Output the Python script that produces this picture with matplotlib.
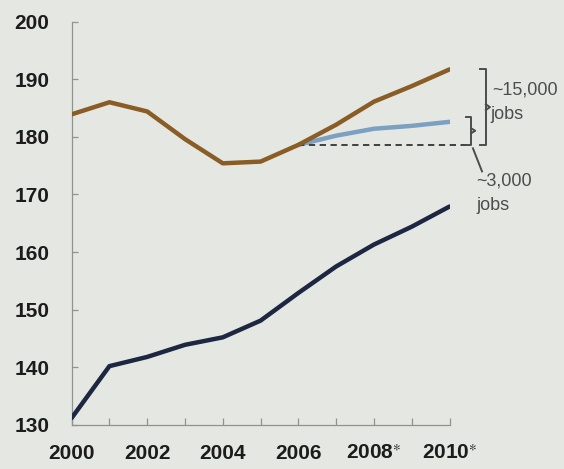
import matplotlib.pyplot as plt

years = list(range(2000, 2011))
brown_vals = [183.9, 186.0, 184.4, 179.6, 175.4, 175.7, 178.6, 182.1, 186.1, 188.8, 191.7]
blue_years = [2006, 2007, 2008, 2009, 2010]
blue_vals = [178.6, 180.2, 181.4, 181.9, 182.6]
navy_vals = [131.2, 140.2, 141.8, 143.9, 145.2, 148.1, 152.9, 157.5, 161.3, 164.4, 167.9]
xtick_labels = ['2000', '2002', '2004', '2006', '2008$^{\u2217}$', '2010$^{\u2217}$']
ytick_vals = [130, 140, 150, 160, 170, 180, 190, 200]

bg = '#e5e8e2'
brown = '#8a5d27'
blue = '#7ba0c2'
navy = '#1d2741'
gray = '#8f948f'
note = '#4a4d4c'

plt.rcParams['font.family'] = ['Liberation Sans', 'DejaVu Sans']
plt.rcParams['mathtext.fontset'] = 'custom'
plt.rcParams['mathtext.rm'] = 'Liberation Sans:bold'
plt.rcParams['mathtext.default'] = 'rm'

fig = plt.figure(figsize=(5.64, 4.69), dpi=100, facecolor=bg)
ax = fig.add_axes([0.127, 0.094, 0.670, 0.860])
ax.set_facecolor(bg)

ax.plot(years, navy_vals, color=navy, lw=3.2, solid_capstyle='round', solid_joinstyle='round', zorder=3)
ax.plot(years, brown_vals, color=brown, lw=3.2, solid_capstyle='round', solid_joinstyle='round', zorder=3)
ax.plot(blue_years, blue_vals, color=blue, lw=3.2, solid_capstyle='round', solid_joinstyle='round', zorder=2)

# dashed baseline from 2006 level
base = blue_vals[0]
ax.plot([2006, 2010.55], [base, base], color='#333333', lw=1.3, ls=(0, (3.5, 2.5)), clip_on=False, zorder=2)

# big bracket (~15,000 jobs)
top = brown_vals[-1]
bx = 2010.96
ax.plot([2010.80, bx, bx, 2010.80], [top, top, base, base], color=note, lw=1.4, clip_on=False)
mid = (top + base) / 2
ax.plot([bx, 2011.07, bx], [mid + 0.5, mid, mid - 0.5], color=note, lw=1.4, clip_on=False)
ax.text(2011.13, mid + 3.0, '~15,000', color=note, fontsize=13, va='center', ha='left')
ax.text(2011.09, mid - 1.2, 'jobs', color=note, fontsize=13, va='center', ha='left')

# small bracket (~3,000 jobs)
stop = blue_vals[-1] + 0.9
sx = 2010.58
ax.plot([2010.43, sx, sx, 2010.43], [stop, stop, base, base], color=note, lw=1.4, clip_on=False)
smid = (stop + base) / 2
ax.plot([sx, 2010.68, sx], [smid + 0.4, smid, smid - 0.4], color=note, lw=1.4, clip_on=False)
ax.plot([2010.62, 2010.86], [base - 0.6, base - 4.6], color=note, lw=1.4, clip_on=False)
ax.text(2010.72, base - 6.3, '~3,000', color=note, fontsize=13, va='center', ha='left')
ax.text(2010.72, base - 10.6, 'jobs', color=note, fontsize=13, va='center', ha='left')

ax.set_xlim(2000, 2010)
ax.set_ylim(130, 200)
ax.set_xticks(years, minor=True)
ax.set_xticks(years[::2])
ax.set_xticklabels(xtick_labels)
ax.set_yticks(ytick_vals)

for side in ['top', 'right']:
    ax.spines[side].set_visible(False)
for side in ['left', 'bottom']:
    ax.spines[side].set_color(gray)
    ax.spines[side].set_linewidth(0.9)

ax.tick_params(axis='x', which='both', direction='in', length=5, color=gray, width=0.9)
ax.tick_params(axis='x', which='major', pad=14, labelsize=15, labelcolor='#1c1c1c')
ax.tick_params(axis='y', direction='in', length=4, color=gray, width=0.9,
               pad=16, labelsize=15, labelcolor='#1c1c1c')
for lab in ax.get_xticklabels() + ax.get_yticklabels():
    lab.set_fontweight('bold')

fig.savefig('out.png', dpi=100, facecolor=bg)
